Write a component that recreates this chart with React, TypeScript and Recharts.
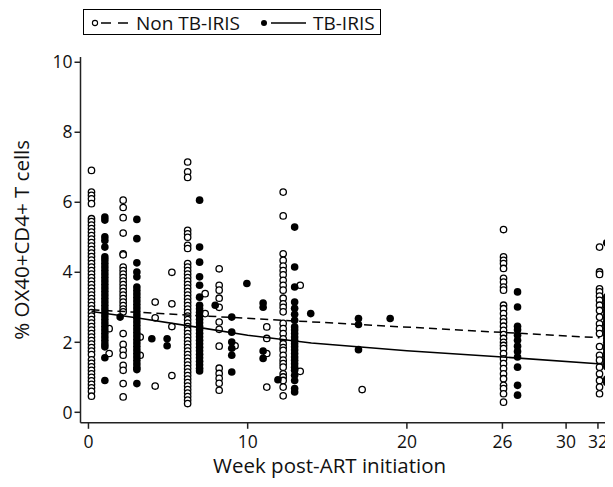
import React from "react";
import { ScatterChart, Scatter, XAxis, YAxis } from "recharts";

const nonWeeks = [0.19, 1.3, 2.18, 3.25, 4.19, 5.24, 6.23, 7.33, 8.21, 9.21, 11.2, 12.23, 13.3, 17.19, 26.07, 32.1];
const nonValues = [
  [6.91, 6.29, 6.2, 6.1, 5.96, 5.53, 5.45, 5.35, 5.25, 5.15, 5.05, 4.95, 4.85, 4.75, 4.65, 4.55, 4.45, 4.35, 4.25, 4.15, 4.05, 3.95, 3.85, 3.75, 3.65, 3.55, 3.45, 3.35, 3.25, 3.15, 3.05, 2.95, 2.85, 2.75, 2.65, 2.55, 2.45, 2.35, 2.25, 2.15, 2.05, 1.95, 1.85, 1.75, 1.65, 1.5, 1.4, 1.3, 1.2, 1.1, 1.0, 0.9, 0.8, 0.7, 0.6, 0.46],
  [2.39, 1.68],
  [6.06, 5.85, 5.56, 5.12, 4.53, 4.5, 4.15, 4.05, 3.95, 3.85, 3.75, 3.65, 3.55, 3.45, 3.35, 3.25, 3.15, 3.05, 2.95, 2.87, 2.25, 1.94, 1.77, 1.63, 1.34, 1.2, 0.82, 0.44],
  [2.15, 1.63],
  [3.15, 2.7, 0.75],
  [4.0, 3.1, 2.45, 1.05],
  [7.15, 6.87, 6.71, 5.2, 5.1, 5.0, 4.77, 4.68, 4.25, 4.15, 4.05, 3.95, 3.85, 3.75, 3.65, 3.55, 3.45, 3.35, 3.25, 3.15, 3.05, 2.95, 2.85, 2.75, 2.65, 2.55, 2.45, 2.35, 2.25, 2.15, 2.05, 1.95, 1.85, 1.75, 1.65, 1.55, 1.45, 1.35, 1.25, 1.15, 1.05, 0.95, 0.85, 0.75, 0.65, 0.55, 0.45, 0.35, 0.25],
  [3.39, 2.82],
  [4.1, 3.63, 3.49, 3.26, 3.0, 2.58, 2.37, 1.89, 1.26, 1.11, 0.97, 0.83, 0.63],
  [1.9],
  [2.44, 2.11, 1.68, 0.72],
  [6.29, 5.61, 4.53, 4.34, 4.18, 4.05, 3.93, 3.77, 3.63, 3.49, 3.26, 3.1, 3.0, 2.87, 2.54, 2.39, 2.25, 2.1, 1.96, 1.85, 1.77, 1.63, 1.49, 1.39, 1.29, 1.1, 1.01, 0.91, 0.72, 0.47],
  [3.63, 1.17],
  [0.65],
  [5.22, 4.44, 4.34, 4.25, 4.11, 3.83, 3.72, 3.58, 3.49, 3.06, 2.96, 2.82, 2.68, 2.58, 2.46, 2.34, 2.22, 2.11, 2.0, 1.91, 1.82, 1.68, 1.53, 1.39, 1.25, 1.1, 0.96, 0.77, 0.68, 0.53, 0.29],
  [4.72, 4.01, 3.94, 3.53, 3.44, 3.32, 3.2, 3.06, 2.91, 2.72, 2.53, 2.39, 2.25, 1.88, 1.63, 1.49, 1.29, 1.1, 0.91, 0.72, 0.53],
];

const tbWeeks = [1.03, 1.99, 3.04, 3.98, 4.94, 6.98, 7.96, 9.0, 9.95, 10.97, 11.9, 12.95, 13.96, 16.96, 18.95, 26.95, 32.55];
const tbValues = [
  [5.58, 5.49, 5.01, 4.91, 4.72, 4.44, 4.35, 4.25, 4.15, 4.05, 3.95, 3.85, 3.75, 3.65, 3.55, 3.45, 3.35, 3.25, 3.15, 3.05, 2.95, 2.85, 2.75, 2.65, 2.55, 2.45, 2.35, 2.25, 2.15, 2.05, 1.95, 1.87, 1.56, 0.91],
  [2.72],
  [5.51, 4.96, 4.27, 4.01, 3.87, 3.58, 3.48, 3.38, 3.28, 3.18, 3.08, 2.98, 2.88, 2.78, 2.68, 2.58, 2.48, 2.38, 2.28, 2.18, 2.08, 1.98, 1.88, 1.78, 1.68, 1.58, 1.48, 1.38, 1.28, 1.22, 0.82],
  [2.1],
  [2.1, 1.9],
  [6.06, 4.72, 4.29, 3.87, 3.63, 3.29, 3.06, 2.96, 2.86, 2.76, 2.66, 2.56, 2.46, 2.36, 2.26, 2.16, 2.06, 1.96, 1.86, 1.76, 1.66, 1.56, 1.46, 1.36, 1.26, 1.18],
  [3.06],
  [2.72, 2.29, 2.01, 1.83, 1.63, 1.15],
  [3.68],
  [3.12, 3.0, 1.75, 1.54],
  [0.93],
  [5.29, 4.15, 3.58, 3.15, 2.97, 2.8, 2.63, 2.44, 2.35, 2.25, 2.15, 2.06, 1.96, 1.87, 1.78, 1.68, 1.58, 1.49, 1.39, 1.29, 1.2, 1.06, 0.91, 0.68, 0.58],
  [2.82],
  [2.68, 2.51, 1.79],
  [2.68],
  [3.44, 3.01, 2.46, 2.36, 2.2, 2.06, 1.89, 1.74, 1.58, 1.29, 0.77, 0.49],
  [4.84, 3.3, 3.2, 3.1, 3.0, 2.9, 2.8, 2.7, 2.6, 2.5, 2.4, 2.3, 2.2, 2.1, 2.0, 1.9, 1.8, 1.7, 1.6, 1.5, 1.4, 1.3, 0.95, 0.85],
];

// fitted trend lines
const nonFitWeeks = [0.19, 32.1];
const nonFitValues = [2.93, 2.13];
const tbFitWeeks = [0.19, 3, 7, 10, 14, 20, 26, 32.55];
const tbFitValues = [2.88, 2.7, 2.42, 2.2, 1.98, 1.76, 1.58, 1.37];

const xTicks = [0, 10, 20, 26, 30, 32];
const yTicks = [0, 2, 4, 6, 8, 10];

const toPoints = (weeks: number[], values: number[][]) =>
  weeks.flatMap((w, i) => values[i].map((v) => ({ week: w, pct: v })));

const nonPoints = toPoints(nonWeeks, nonValues);
const tbPoints = toPoints(tbWeeks, tbValues);
const nonFit = nonFitWeeks.map((w, i) => ({ week: w, pct: nonFitValues[i] }));
const tbFit = tbFitWeeks.map((w, i) => ({ week: w, pct: tbFitValues[i] }));

const FONT = "'Open Sans', sans-serif";

const OpenDot = (p: any) => (
  <circle cx={p.cx} cy={p.cy} r={3.2} fill="#fff" stroke="#000" strokeWidth={1.3} />
);
const FilledDot = (p: any) => <circle cx={p.cx} cy={p.cy} r={3.8} fill="#000" />;
const NoDot = () => <g />;

function LegendBox() {
  return (
    <div
      style={{
        position: "absolute",
        left: 75,
        top: 1,
        width: 296,
        height: 24,
        border: "1px solid #000",
        background: "#fff",
      }}
    >
      <svg width={296} height={24} style={{ display: "block" }}>
        <circle cx={11} cy={13} r={2.6} fill="#fff" stroke="#000" strokeWidth={1.1} />
        <line x1={17} y1={13} x2={45} y2={13} stroke="#000" strokeWidth={1.5} strokeDasharray="10 7" />
        <text x={52} y={19.5} fontFamily={FONT} fontSize={19} fill="#111">
          Non TB-IRIS
        </text>
        <circle cx={180} cy={13} r={3} fill="#000" />
        <line x1={187} y1={13} x2={222} y2={13} stroke="#000" strokeWidth={1.5} />
        <text x={229} y={19.5} fontFamily={FONT} fontSize={19} fill="#111">
          TB-IRIS
        </text>
      </svg>
    </div>
  );
}

export default function App() {
  return (
    <div style={{ position: "relative", width: 605, height: 479, fontFamily: FONT }}>
      <ScatterChart
        width={605}
        height={479}
        margin={{ top: 49, right: 6.3, left: 0, bottom: 34.2 }}
      >
        <XAxis
          type="number"
          dataKey="week"
          domain={[-0.5, 32.55]}
          ticks={xTicks}
          interval={0}
          height={30}
          tickSize={6}
          tickMargin={7}
          stroke="#222"
          strokeWidth={1.5}
          tick={{ fill: "#111", fontSize: 17.5, fontFamily: FONT }}
          label={{
            value: "Week post-ART initiation",
            position: "bottom",
            offset: 6,
            dx: -14,
            fill: "#111",
            fontSize: 20.5,
            fontFamily: FONT,
          }}
        />
        <YAxis
          type="number"
          dataKey="pct"
          domain={[-0.3, 10.15]}
          ticks={yTicks}
          interval={0}
          width={72.5}
          tickSize={6}
          tickMargin={2}
          stroke="#222"
          strokeWidth={1.5}
          tick={{ fill: "#111", fontSize: 17.5, fontFamily: FONT }}
          label={{
            value: "% OX40+CD4+ T cells",
            angle: -90,
            position: "insideLeft",
            offset: 14,
            fill: "#111",
            fontSize: 20.5,
            fontFamily: FONT,
            style: { textAnchor: "middle" },
          }}
        />
        <Scatter name="Non TB-IRIS" data={nonPoints} shape={OpenDot} isAnimationActive={false} />
        <Scatter name="TB-IRIS" data={tbPoints} shape={FilledDot} isAnimationActive={false} />
        <Scatter
          name="Non TB-IRIS fit"
          data={nonFit}
          shape={NoDot}
          line={{ stroke: "#000", strokeWidth: 1.5, strokeDasharray: "8 5" }}
          lineType="joint"
          isAnimationActive={false}
        />
        <Scatter
          name="TB-IRIS fit"
          data={tbFit}
          shape={NoDot}
          line={{ stroke: "#000", strokeWidth: 1.6 }}
          lineType="joint"
          isAnimationActive={false}
        />
      </ScatterChart>
      <LegendBox />
    </div>
  );
}
